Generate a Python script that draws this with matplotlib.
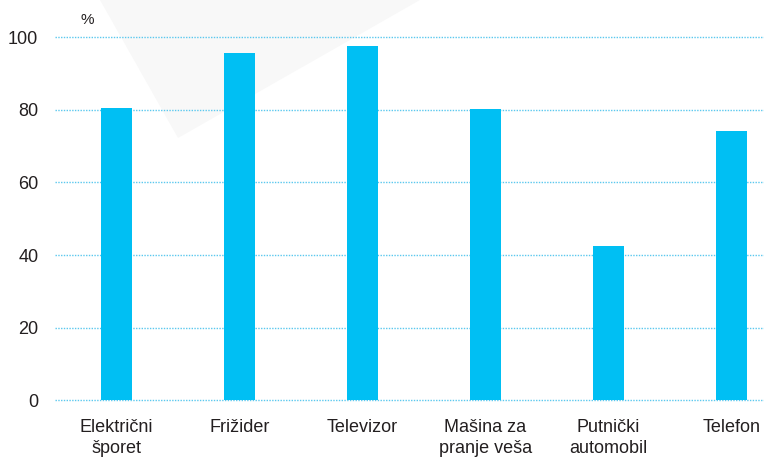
import matplotlib
matplotlib.use("Agg")
import matplotlib.pyplot as plt
from matplotlib.patches import Polygon

categories = ["Električni\nšporet", "Frižider", "Televizor", "Mašina za\npranje veša", "Putnički\nautomobil", "Telefon"]
values = [80.6, 95.7, 97.7, 80.3, 42.5, 74.2]
yticks = [0, 20, 40, 60, 80, 100]

bar_color = "#00BFF3"
grid_color = "#5BC8EE"
text_color = "#231F20"

plt.rcParams["font.family"] = ["Liberation Sans", "DejaVu Sans"]

fig = plt.figure(figsize=(7.64, 4.61), dpi=100)
W, H = 764, 461

ax = fig.add_axes([55 / W, 61 / H, 709 / W, 362.5 / H])
ax.patch.set_alpha(0)

# faint background triangle, behind the bars
tri = Polygon([(100 / W, 1.0), (178 / W, 1 - 138 / H), (420 / W, 1.0)],
              closed=True, transform=fig.transFigure, facecolor="#F8F8F8",
              edgecolor="none", zorder=0, clip_on=False)
ax.add_patch(tri)

x = list(range(len(categories)))
ax.bar(x, values, width=0.25, color=bar_color, zorder=3)

ax.set_xlim(-0.5, 5.265)
ax.set_ylim(0, 100)
ax.set_yticks(yticks)
ax.set_yticklabels([str(v) for v in yticks], fontsize=13, color=text_color)
ax.set_xticks(x)
ax.set_xticklabels(categories, fontsize=13, color=text_color, linespacing=1.25)
ax.tick_params(axis="y", length=0, pad=12)
ax.tick_params(axis="x", length=0, pad=14)

for v in yticks:
    ax.axhline(v, color=grid_color, lw=1, ls=(0, (1, 1)), zorder=1, clip_on=False)

for s in ax.spines.values():
    s.set_visible(False)

fig.text(87 / W, 1 - 20 / H, "%", fontsize=11, color=text_color, ha="center", va="center")

fig.savefig("out.png", dpi=100)
